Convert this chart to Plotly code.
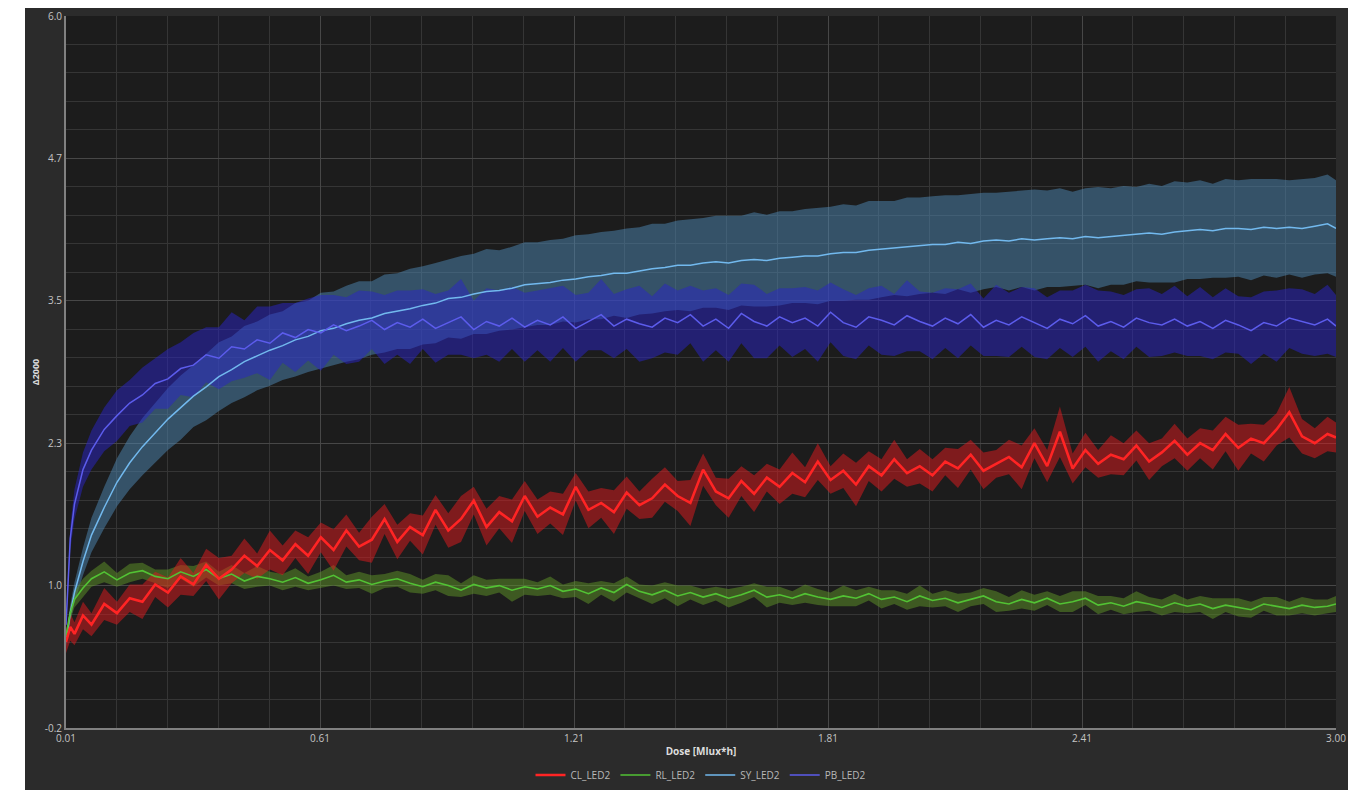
import plotly.graph_objects as go

# ---------------- data ----------------
DOSE = [
    0.01, 0.02, 0.03, 0.05, 0.07, 0.10, 0.13, 0.16, 0.19, 0.22,
    0.25, 0.28, 0.31, 0.34, 0.37, 0.40, 0.43, 0.46, 0.49, 0.52,
    0.55, 0.58, 0.61, 0.64, 0.67, 0.70, 0.73, 0.76, 0.79, 0.82,
    0.85, 0.88, 0.91, 0.94, 0.97, 1.00, 1.03, 1.06, 1.09, 1.12,
    1.15, 1.18, 1.21, 1.24, 1.27, 1.30, 1.33, 1.36, 1.39, 1.42,
    1.45, 1.48, 1.51, 1.54, 1.57, 1.60, 1.63, 1.66, 1.69, 1.72,
    1.75, 1.78, 1.81, 1.84, 1.87, 1.90, 1.93, 1.96, 1.99, 2.02,
    2.05, 2.08, 2.11, 2.14, 2.17, 2.20, 2.23, 2.26, 2.29, 2.32,
    2.35, 2.38, 2.41, 2.44, 2.47, 2.50, 2.53, 2.56, 2.59, 2.62,
    2.65, 2.68, 2.71, 2.74, 2.77, 2.80, 2.83, 2.86, 2.89, 2.92,
    2.95, 2.98, 3.00,
]

CL_MEAN = [
    0.55, 0.68, 0.62, 0.78, 0.70, 0.88, 0.80, 0.93, 0.90, 1.05,
    0.98, 1.12, 1.05, 1.22, 1.10, 1.18, 1.30, 1.21, 1.35, 1.26,
    1.40, 1.30, 1.46, 1.35, 1.52, 1.38, 1.44, 1.62, 1.42, 1.55,
    1.48, 1.70, 1.52, 1.62, 1.78, 1.55, 1.68, 1.60, 1.82, 1.64,
    1.72, 1.66, 1.90, 1.70, 1.76, 1.68, 1.85, 1.74, 1.80, 1.92,
    1.82, 1.76, 2.05, 1.86, 1.80, 1.95, 1.84, 1.98, 1.90, 2.02,
    1.94, 2.12, 1.96, 2.04, 1.92, 2.08, 2.00, 2.14, 2.02, 2.08,
    2.00, 2.12, 2.06, 2.18, 2.04, 2.10, 2.16, 2.07, 2.28, 2.08,
    2.38, 2.06, 2.22, 2.10, 2.18, 2.14, 2.26, 2.12, 2.20, 2.30,
    2.18, 2.28, 2.22, 2.36, 2.24, 2.32, 2.28, 2.40, 2.55, 2.34,
    2.28, 2.36, 2.33,
]
CL_SPREAD = [
    0.10, 0.12, 0.10, 0.12, 0.10, 0.14, 0.10, 0.12, 0.15, 0.11,
    0.13, 0.16, 0.10, 0.14, 0.18, 0.12, 0.15, 0.11, 0.17, 0.13,
    0.12, 0.16, 0.13, 0.18, 0.14, 0.12, 0.20, 0.13, 0.15, 0.12,
    0.17, 0.13, 0.15, 0.20, 0.12, 0.16, 0.14, 0.19, 0.13, 0.15,
    0.14, 0.18, 0.12, 0.16, 0.13, 0.19, 0.14, 0.12, 0.17, 0.15,
    0.13, 0.20, 0.14, 0.12, 0.17, 0.13, 0.16, 0.12, 0.15, 0.18,
    0.13, 0.16, 0.12, 0.15, 0.19, 0.13, 0.14, 0.17, 0.12, 0.15,
    0.14, 0.12, 0.17, 0.13, 0.16, 0.12, 0.15, 0.19, 0.13, 0.14,
    0.22, 0.13, 0.15, 0.12, 0.17, 0.14, 0.13, 0.16, 0.12, 0.15,
    0.14, 0.13, 0.17, 0.15, 0.20, 0.13, 0.16, 0.14, 0.22, 0.15,
    0.13, 0.15, 0.13,
]

RL_MEAN = [
    0.60, 0.80, 0.92, 1.02, 1.10, 1.16, 1.09, 1.15, 1.17, 1.12,
    1.10, 1.16, 1.12, 1.18, 1.10, 1.14, 1.08, 1.12, 1.10, 1.07,
    1.11, 1.06, 1.09, 1.13, 1.07, 1.09, 1.05, 1.08, 1.10, 1.06,
    1.03, 1.07, 1.04, 1.00, 1.05, 1.02, 1.04, 1.00, 1.03, 1.01,
    1.04, 0.99, 1.01, 0.97, 1.02, 0.98, 1.05, 0.99, 0.96, 1.00,
    0.95, 0.98, 0.94, 0.97, 0.93, 0.96, 1.00, 0.94, 0.96, 0.93,
    0.97, 0.94, 0.92, 0.95, 0.93, 0.97, 0.92, 0.94, 0.90, 0.95,
    0.91, 0.93, 0.89, 0.92, 0.95, 0.90, 0.88, 0.92, 0.89, 0.93,
    0.88, 0.90, 0.93, 0.87, 0.89, 0.86, 0.90, 0.88, 0.85, 0.89,
    0.86, 0.88, 0.84, 0.87, 0.85, 0.83, 0.88, 0.86, 0.84, 0.87,
    0.85, 0.86, 0.88,
]
RL_SPREAD = [
    0.05, 0.06, 0.07, 0.08, 0.07, 0.09, 0.06, 0.08, 0.07, 0.06,
    0.08, 0.06, 0.09, 0.07, 0.06, 0.08, 0.07, 0.09, 0.06, 0.07,
    0.08, 0.06, 0.07, 0.09, 0.06, 0.07, 0.08, 0.06, 0.07, 0.08,
    0.06, 0.07, 0.09, 0.06, 0.08, 0.07, 0.06, 0.10, 0.07, 0.06,
    0.08, 0.06, 0.07, 0.09, 0.06, 0.08, 0.07, 0.06, 0.08, 0.07,
    0.09, 0.06, 0.07, 0.06, 0.08, 0.07, 0.06, 0.09, 0.07, 0.06,
    0.08, 0.07, 0.06, 0.09, 0.07, 0.06, 0.08, 0.06, 0.07, 0.09,
    0.06, 0.07, 0.08, 0.06, 0.07, 0.09, 0.06, 0.08, 0.07, 0.06,
    0.07, 0.09, 0.06, 0.08, 0.06, 0.07, 0.09, 0.06, 0.07, 0.08,
    0.06, 0.07, 0.09, 0.06, 0.08, 0.07, 0.06, 0.08, 0.06, 0.07,
    0.07, 0.06, 0.07,
]

SY_MEAN = [
    0.55, 0.80, 0.98, 1.25, 1.48, 1.72, 1.94, 2.11, 2.25, 2.37,
    2.49, 2.59, 2.69, 2.77, 2.86, 2.92, 2.99, 3.04, 3.09, 3.13,
    3.18, 3.21, 3.26, 3.28, 3.32, 3.35, 3.37, 3.41, 3.43, 3.45,
    3.48, 3.50, 3.54, 3.55, 3.58, 3.60, 3.61, 3.63, 3.66, 3.67,
    3.68, 3.70, 3.71, 3.73, 3.74, 3.76, 3.76, 3.78, 3.80, 3.81,
    3.83, 3.83, 3.85, 3.86, 3.85, 3.87, 3.88, 3.87, 3.89, 3.90,
    3.91, 3.91, 3.93, 3.94, 3.94, 3.96, 3.97, 3.98, 3.99, 4.00,
    4.01, 4.01, 4.03, 4.02, 4.04, 4.05, 4.04, 4.06, 4.05, 4.06,
    4.07, 4.06, 4.08, 4.07, 4.08, 4.09, 4.10, 4.11, 4.10, 4.12,
    4.13, 4.14, 4.13, 4.15, 4.15, 4.14, 4.16, 4.15, 4.16, 4.15,
    4.17, 4.19, 4.15,
]
SY_SPREAD = [
    0.04, 0.07, 0.09, 0.12, 0.15, 0.18, 0.21, 0.23, 0.25, 0.26,
    0.27, 0.28, 0.27, 0.29, 0.30, 0.29, 0.31, 0.30, 0.31, 0.30,
    0.32, 0.31, 0.33, 0.32, 0.33, 0.34, 0.32, 0.34, 0.33, 0.35,
    0.34, 0.35, 0.34, 0.36, 0.35, 0.37, 0.35, 0.36, 0.37, 0.36,
    0.37, 0.36, 0.38, 0.37, 0.38, 0.37, 0.39, 0.38, 0.39, 0.38,
    0.39, 0.40, 0.39, 0.40, 0.41, 0.39, 0.41, 0.40, 0.41, 0.40,
    0.41, 0.42, 0.41, 0.42, 0.41, 0.43, 0.42, 0.41, 0.43, 0.42,
    0.42, 0.43, 0.41, 0.43, 0.42, 0.41, 0.43, 0.42, 0.44, 0.42,
    0.43, 0.41, 0.42, 0.44, 0.42, 0.43, 0.41, 0.43, 0.42, 0.44,
    0.42, 0.43, 0.41, 0.43, 0.42, 0.44, 0.42, 0.43, 0.41, 0.43,
    0.42, 0.43, 0.42,
]

PB_MEAN = [
    0.70, 1.45, 1.75, 2.05, 2.22, 2.40, 2.52, 2.63, 2.70, 2.80,
    2.84, 2.93, 2.96, 3.05, 3.02, 3.12, 3.10, 3.18, 3.15, 3.24,
    3.20, 3.27, 3.24, 3.31, 3.26, 3.30, 3.35, 3.27, 3.33, 3.29,
    3.36, 3.28, 3.33, 3.38, 3.27, 3.34, 3.30, 3.37, 3.29, 3.35,
    3.31, 3.38, 3.28, 3.34, 3.40, 3.30, 3.36, 3.32, 3.29, 3.37,
    3.33, 3.40, 3.30, 3.36, 3.28, 3.41, 3.34, 3.30, 3.38, 3.33,
    3.37, 3.30, 3.42, 3.33, 3.29, 3.38, 3.35, 3.31, 3.39, 3.34,
    3.30, 3.37, 3.32, 3.40, 3.29, 3.35, 3.31, 3.38, 3.33, 3.28,
    3.36, 3.32, 3.39, 3.30, 3.34, 3.29, 3.37, 3.33, 3.31, 3.36,
    3.30, 3.34, 3.28, 3.35, 3.31, 3.26, 3.33, 3.30, 3.37, 3.34,
    3.31, 3.36, 3.30,
]
PB_SPREAD = [
    0.05, 0.10, 0.13, 0.15, 0.17, 0.19, 0.22, 0.20, 0.24, 0.22,
    0.26, 0.23, 0.28, 0.24, 0.27, 0.30, 0.25, 0.29, 0.32, 0.26,
    0.30, 0.27, 0.33, 0.26, 0.29, 0.31, 0.25, 0.30, 0.28, 0.32,
    0.26, 0.30, 0.28, 0.33, 0.25, 0.29, 0.31, 0.27, 0.30, 0.26,
    0.32, 0.27, 0.29, 0.25, 0.31, 0.28, 0.26, 0.33, 0.27, 0.30,
    0.28, 0.25, 0.31, 0.27, 0.29, 0.26, 0.32, 0.28, 0.25, 0.30,
    0.27, 0.31, 0.26, 0.29, 0.28, 0.25, 0.30, 0.27, 0.31, 0.26,
    0.29, 0.26, 0.30, 0.27, 0.25, 0.31, 0.28, 0.26, 0.30, 0.27,
    0.25, 0.29, 0.27, 0.31, 0.26, 0.28, 0.25, 0.30, 0.27, 0.29,
    0.26, 0.30, 0.27, 0.28, 0.25, 0.29, 0.27, 0.31, 0.26, 0.28,
    0.27, 0.30, 0.27,
]

X_TICKVALS = [0.01, 0.608, 1.206, 1.804, 2.402, 3.00]
X_TICKTEXT = ["0.01", "0.61", "1.21", "1.81", "2.41", "3.00"]
Y_TICKVALS = [-0.2, 1.04, 2.28, 3.52, 4.76, 6.0]
Y_TICKTEXT = ["-0.2", "1.0", "2.3", "3.5", "4.7", "6.0"]

for arr in (CL_MEAN, CL_SPREAD, RL_MEAN, RL_SPREAD, SY_MEAN, SY_SPREAD, PB_MEAN, PB_SPREAD):
    assert len(arr) == len(DOSE)

# name, mean, spread, line colour, band colour, line width, legend rank
SERIES = [
    ("SY_LED2", SY_MEAN, SY_SPREAD, "#72b9ee", "rgba(78,135,180,0.5)", 1.5, 3),
    ("PB_LED2", PB_MEAN, PB_SPREAD, "#5c5cec", "rgba(42,36,200,0.5)", 1.5, 4),
    ("RL_LED2", RL_MEAN, RL_SPREAD, "#52c234", "rgba(95,150,40,0.5)", 1.6, 2),
    ("CL_LED2", CL_MEAN, CL_SPREAD, "#ff2424", "rgba(225,25,30,0.5)", 2.6, 1),
]

fig = go.Figure()

# bands first
for name, mean, spread, lc, bc, lw, rank in SERIES:
    lo = [m - s for m, s in zip(mean, spread)]
    hi = [m + s for m, s in zip(mean, spread)]
    fig.add_trace(go.Scatter(x=DOSE, y=lo, mode="lines", line=dict(width=0, color=bc),
                             showlegend=False, hoverinfo="skip"))
    fig.add_trace(go.Scatter(x=DOSE, y=hi, mode="lines", line=dict(width=0, color=bc),
                             fill="tonexty", fillcolor=bc, showlegend=False, hoverinfo="skip"))

# mean lines
for name, mean, spread, lc, bc, lw, rank in SERIES:
    fig.add_trace(go.Scatter(x=DOSE, y=mean, mode="lines", name=name,
                             line=dict(color=lc, width=lw), legendrank=rank))

# page has an 8px body margin; geometry below is in figure px
OFF = 8
W, H = 1350, 782
L, T = 66 - OFF, 16 - OFF
R = W - (1336 - OFF)
B = H - (728 - OFF)
pw, ph = W - L - R, H - T - B

def px_x(p):
    return (p - OFF - L) / pw

def px_y(p):
    return (H - B - (p - OFF)) / ph

fig.add_shape(type="rect", xref="paper", yref="paper", layer="below",
              x0=px_x(25), x1=px_x(1348), y0=px_y(795), y1=px_y(6),
              fillcolor="#2b2b2b", line=dict(width=0))
fig.add_shape(type="rect", xref="paper", yref="paper", layer="below",
              x0=0, x1=1, y0=0, y1=1, fillcolor="#1c1c1c", line=dict(width=0))

tickfont = dict(family="Open Sans, sans-serif", size=10, color="#c4c4c4")

fig.update_layout(
    width=W, height=H,
    margin=dict(l=L, r=R, t=T, b=B, autoexpand=False),
    paper_bgcolor="white",
    plot_bgcolor="rgba(0,0,0,0)",
    showlegend=True,
    legend=dict(orientation="h", x=0.5, xanchor="center", y=px_y(775), yanchor="middle",
                traceorder="normal",
                font=dict(family="Open Sans, sans-serif", size=10, color="#b8b8b8"),
                bgcolor="rgba(0,0,0,0)", itemwidth=30, tracegroupgap=0),
    xaxis=dict(range=[0.01, 3.00], tickvals=X_TICKVALS, ticktext=X_TICKTEXT,
               tickfont=tickfont, showgrid=True, gridcolor="#474747", gridwidth=1,
               zeroline=False, showline=True, linecolor="#808080", linewidth=2,
               ticks="", ticklen=0,
               minor=dict(tick0=0.01, dtick=0.1196, showgrid=True, gridcolor="#353535", gridwidth=1),
               title=dict(text="<b>Dose [Mlux*h]</b>", standoff=4,
                          font=dict(family="Open Sans, sans-serif", size=10, color="#dddddd"))),
    yaxis=dict(range=[-0.2, 6.0], tickvals=Y_TICKVALS, ticktext=Y_TICKTEXT,
               tickfont=tickfont, showgrid=True, gridcolor="#474747", gridwidth=1,
               zeroline=False, showline=True, linecolor="#808080", linewidth=2,
               ticks="", ticklen=0,
               minor=dict(tick0=-0.2, dtick=0.248, showgrid=True, gridcolor="#353535", gridwidth=1),
               title=dict(text="<b>Δ2000</b>", standoff=4,
                          font=dict(family="Open Sans, sans-serif", size=9, color="#dddddd"))),
)

fig.write_html("out.html")
